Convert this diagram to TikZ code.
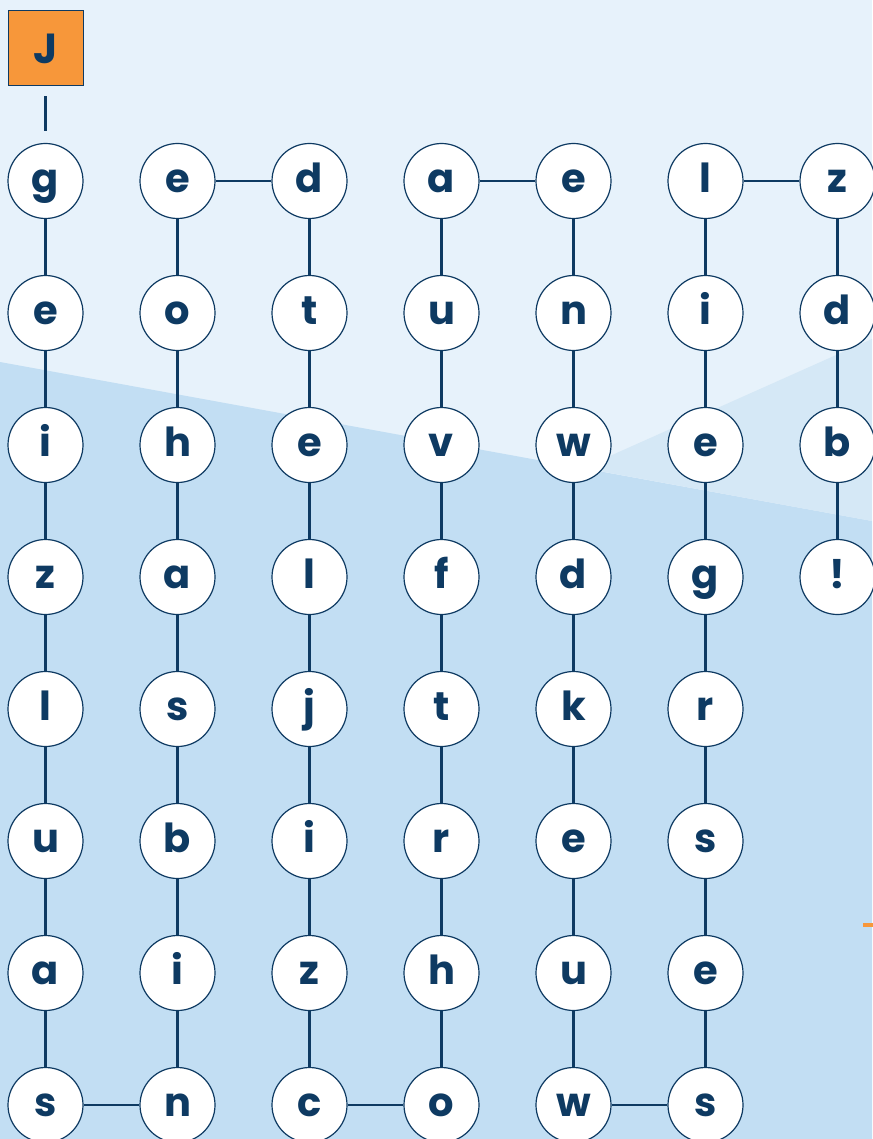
\documentclass[tikz,border=0pt]{standalone}
\usepackage{fontspec}
\setmainfont{Poppins}

\begin{document}
\begin{tikzpicture}[x=1pt,y=-1pt]
    \definecolor{mynavy}{RGB}{14,58,98}
    \definecolor{myskytop}{RGB}{231,242,251}
    \definecolor{myskymid}{RGB}{213,232,246}
    \definecolor{myskylow}{RGB}{194,222,243}
    \definecolor{myorange}{RGB}{247,151,58}
    \tikzset{
        letter/.style={circle, draw=mynavy, line width=1.2pt, fill=white,
            minimum size=75pt, inner sep=0pt, text=mynavy,
            font=\fontsize{40}{40}\selectfont\bfseries,
            text height=23.5pt, text depth=0pt},
        startbox/.style={rectangle, draw=mynavy, line width=1pt, fill=myorange,
            minimum size=75pt, inner sep=0pt, text=mynavy,
            font=\fontsize{42}{42}\selectfont\bfseries,
            text height=31pt, text depth=0pt},
        link/.style={mynavy, line width=2.4pt}
    }

    % background
    \useasboundingbox (0,0) rectangle (872,1139);
    \fill[myskytop] (0,0) rectangle (872,1139);
    \fill[myskylow] (0,362) -- (872,521) -- (872,1139) -- (0,1139) -- cycle;
    \fill[myskymid] (583,468) -- (872,339) -- (872,521) -- cycle;
    \draw[myorange, line width=4pt] (863,925) -- (873,925);

    % start
    \node[startbox] (start) at (45.5,48.5) {J};

    % letter grid, column by column
    \foreach [count=\i] \word in {{g,e,i,z,l,u,a,s},{e,o,h,a,s,b,i,n},
        {d,t,e,l,j,i,z,c},{a,u,v,f,t,r,h,o},{e,n,w,d,k,e,u,w},
        {l,i,e,g,r,s,e,s},{z,d,b,!}}{
        \foreach [count=\j] \ch in \word
            \node[letter] (n\i-\j) at ({132*\i-86.5},{181+132*(\j-1)}) {\ch};
    }

    % down the columns
    \foreach \i/\n in {1/7,2/7,3/7,4/7,5/7,6/7,7/3}{
        \foreach \j in {1,...,\n}{
            \pgfmathtruncatemacro\k{\j+1}
            \draw[link] (n\i-\j) -- (n\i-\k);
        }
    }

    % turns at the bottom and top
    \draw[link] (n1-8) -- (n2-8);
    \draw[link] (n2-1) -- (n3-1);
    \draw[link] (n3-8) -- (n4-8);
    \draw[link] (n4-1) -- (n5-1);
    \draw[link] (n5-8) -- (n6-8);
    \draw[link] (n6-1) -- (n7-1);

    \draw[link, shorten <=10pt, shorten >=12pt] (start) -- (n1-1);
\end{tikzpicture}
\end{document}
